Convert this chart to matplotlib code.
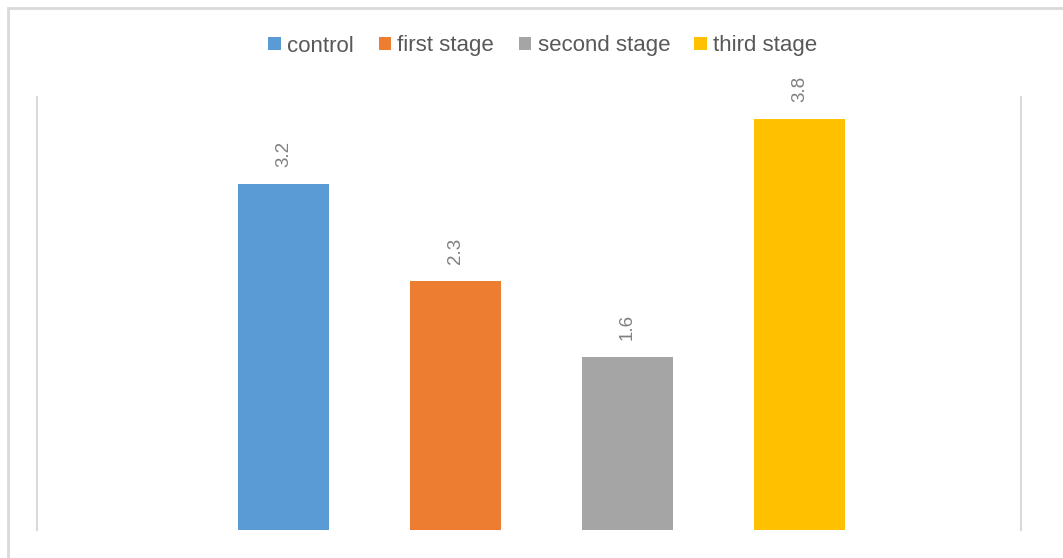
import matplotlib.pyplot as plt
from matplotlib.patches import Rectangle, Patch

series = ['control', 'first stage', 'second stage', 'third stage']
values = [3.2, 2.3, 1.6, 3.8]
colors = ['#5b9bd5', '#ed7d31', '#a5a5a5', '#ffc000']

plt.rcParams['font.family'] = ['Liberation Sans Narrow', 'Liberation Sans', 'DejaVu Sans']

fig = plt.figure(figsize=(10.63, 5.58), dpi=100)
ax = fig.add_axes([37 / 1063, 1 - 530 / 558, (1021 - 37) / 1063, (530 - 97) / 558])

x = list(range(len(values)))
bars = ax.bar(x, values, width=0.53, color=colors)
for xi, v in zip(x, values):
    ax.annotate(f'{v}', (xi, v), xytext=(0, 12), textcoords='offset points',
                rotation=90, ha='center', va='bottom', color='#7f7f7f', fontsize=13.5)

ax.set_xlim(-1.433, 4.288)
ax.set_ylim(0, 4)
ax.set_xticks([])
ax.set_yticks([])
for s in ['top', 'bottom']:
    ax.spines[s].set_visible(False)
for s in ['left', 'right']:
    ax.spines[s].set_color('#d9d9d9')
    ax.spines[s].set_linewidth(1.5)

handles = [Patch(facecolor=c, label=n) for c, n in zip(colors, series)]
fig.legend(handles=handles, loc='center', bbox_to_anchor=(543 / 1063, 1 - 46 / 558),
           ncol=4, frameon=False, fontsize=16, labelcolor='#595959',
           handlelength=0.55, handleheight=0.55, handletextpad=0.3, columnspacing=1.1)

fig.patches.append(Rectangle((7.5 / 1063, -0.1), 1.2, 1.1 - 8.5 / 558, transform=fig.transFigure,
                             fill=False, edgecolor='#d9d9d9', linewidth=2))

fig.savefig('out.png', dpi=100)
